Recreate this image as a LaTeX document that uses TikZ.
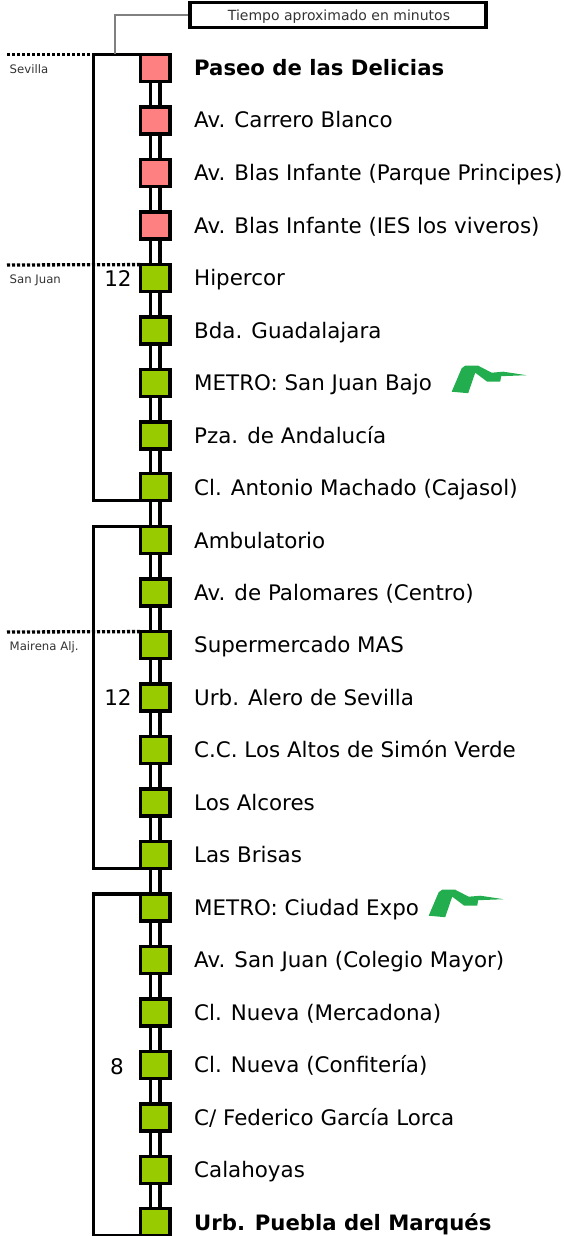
\documentclass[tikz,border=0pt]{standalone}
\usepackage{fontspec}
\setmainfont{DejaVu Sans}
\definecolor{stopred}{HTML}{FF8080}
\definecolor{stopgreen}{HTML}{99CC00}
\definecolor{metrogreen}{HTML}{22AD4E}
\definecolor{labelgrey}{HTML}{333333}
\tikzset{
  stopbox/.style={draw=black,line width=3.5pt,minimum width=29.5pt,minimum height=26.8pt,inner sep=0pt,outer sep=0pt},
  redstop/.style={stopbox,fill=stopred},
  greenstop/.style={stopbox,fill=stopgreen},
  stoplabel/.style={anchor=base west,inner sep=0pt,font=\fontsize{21.4}{22}\selectfont,text=black},
  boldlabel/.style={stoplabel,font=\fontsize{21.2}{22}\selectfont\bfseries},
  timelabel/.style={anchor=base,inner sep=0pt,font=\fontsize{21.5}{22}\selectfont,text=black},
  townlabel/.style={anchor=base west,inner sep=0pt,font=\fontsize{11.7}{13}\selectfont,text=labelgrey},
  headlabel/.style={anchor=base,inner sep=0pt,font=\fontsize{14}{15}\selectfont,text=labelgrey},
  headbox/.style={draw=black,line width=3.4pt,minimum width=296pt,minimum height=25pt,inner sep=0pt},
  rail/.style={line width=3.4pt,black},
  bracket/.style={line width=3.4pt,black,line cap=butt},
  townline/.style={line width=3.3pt,black,dash pattern=on 3.2pt off 1.8pt},
  metrologo/.style={fill=metrogreen,draw=none}
}
\newcommand{\metromark}[1]{\fill[metrologo,shift={(#1)}] (0,26) -- (10,2.5) -- (13.5,0) -- (26.5,0) -- (40,7) -- (51.5,6) -- (75,9.5) -- (49.5,10.5) -- (48.5,16) -- (35.5,16) -- (23.5,7) -- (16.5,27.5) -- cycle;}
\begin{document}
\begin{tikzpicture}[x=1pt,y=-1pt]
\useasboundingbox (0,0) rectangle (564,1236);
\foreach \n/\ty [count=\i] in {1/68,2/120.5,3/173,4/225.5,5/278,6/330.5,7/383,8/435.5,9/487,10/540,11/592.5,12/645,13/697.5,14/750,15/802.5,16/855,17/907.5,18/960,19/1012.5,20/1065,21/1117.5,22/1170,23/1222}{
  \ifnum\i<5
    \node[redstop] (s\n) at (155,\ty) {};
  \else
    \node[greenstop] (s\n) at (155,\ty) {};
  \fi
}
\foreach \a [remember=\a as \b (initially 1)] in {2,...,23}{
  \draw[rail] ([xshift=-4.5pt]s\b.south) -- ([xshift=-4.5pt]s\a.north);
  \draw[rail] ([xshift=5pt]s\b.south) -- ([xshift=5pt]s\a.north);
}
\node[boldlabel] (t1) at (194,76) {Paseo de las Delicias};
\node[stoplabel] (t2) at (194,128) {Av. Carrero Blanco};
\node[stoplabel] (t3) at (194,180.5) {Av. Blas Infante (Parque Principes)};
\node[stoplabel] (t4) at (194,233) {Av. Blas Infante (IES los viveros)};
\node[stoplabel] (t5) at (194,285.5) {Hipercor};
\node[stoplabel] (t6) at (194,338) {Bda. Guadalajara};
\node[stoplabel] (t7) at (194,390.5) {METRO: San Juan Bajo};
\node[stoplabel] (t8) at (194,443) {Pza. de Andalucía};
\node[stoplabel] (t9) at (194,495) {Cl. Antonio Machado (Cajasol)};
\node[stoplabel] (t10) at (194,548) {Ambulatorio};
\node[stoplabel] (t11) at (194,600) {Av. de Palomares (Centro)};
\node[stoplabel] (t12) at (194,652.5) {Supermercado MAS};
\node[stoplabel] (t13) at (194,705) {Urb. Alero de Sevilla};
\node[stoplabel] (t14) at (194,757.5) {C.C. Los Altos de Simón Verde};
\node[stoplabel] (t15) at (194,810) {Los Alcores};
\node[stoplabel] (t16) at (194,862.5) {Las Brisas};
\node[stoplabel] (t17) at (194,915) {METRO: Ciudad Expo};
\node[stoplabel] (t18) at (194,967.5) {Av. San Juan (Colegio Mayor)};
\node[stoplabel] (t19) at (194,1020) {Cl. Nueva (Mercadona)};
\node[stoplabel] (t20) at (194,1072.5) {Cl. Nueva (Confitería)};
\node[stoplabel] (t21) at (194,1125) {C/ Federico García Lorca};
\node[stoplabel] (t22) at (194,1177.5) {Calahoyas};
\node[boldlabel] (t23) at (194,1230) {Urb. Puebla del Marqués};
\draw[bracket] (s1.north west) -- ++(-47,0) |- (s9.south west);
\draw[bracket] (s10.north west) -- ++(-47,0) |- (s16.south west);
\draw[bracket] (s17.north west) -- ++(-47,0) |- (s23.south west);
\node[headbox] (head) at (338,15) {};
\node[headlabel] (headtext) at (339,20.5) {Tiempo aproximado en minutos};
\coordinate (headfoot) at (115,54);
\draw[gray,line width=1.5pt] (head.west) -| (headfoot);
\coordinate (sevL) at (7,54.5);
\coordinate (sevR) at (91,54.5);
\coordinate (sanL) at (7,265);
\coordinate (marL) at (7,632);
\draw[townline] (sevL) -- (sevR);
\draw[townline] (sanL) -- (s5.north west);
\draw[townline] (marL) -- (s12.north west);
\node[townlabel] (town1) at (9.5,73.5) {Sevilla};
\node[townlabel] (town2) at (9.5,283) {San Juan};
\node[townlabel] (town3) at (9.5,650) {Mairena Alj.};
\node[timelabel] (n1) at (118,286) {12};
\node[timelabel] (n2) at (118,705) {12};
\node[timelabel] (n3) at (117,1074) {8};
\metromark{451.7,365.7}
\metromark{428.7,889.7}
\end{tikzpicture}
\end{document}
